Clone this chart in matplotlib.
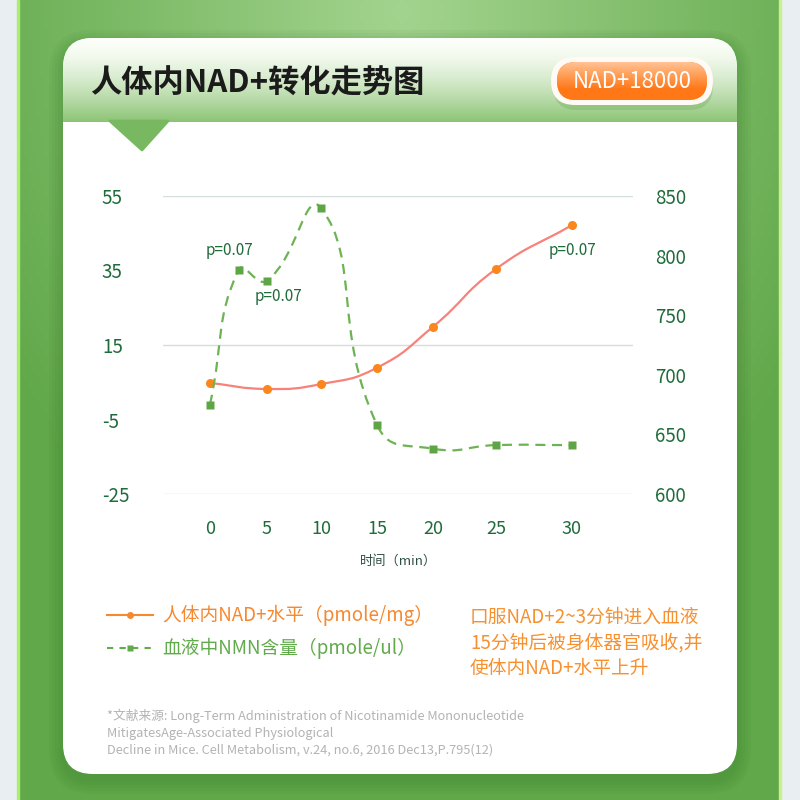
import numpy as np
import matplotlib
matplotlib.use('Agg')
import matplotlib.pyplot as plt
from matplotlib.patches import FancyBboxPatch, Polygon, Rectangle, PathPatch
from matplotlib.path import Path
from matplotlib.lines import Line2D

plt.rcParams['font.family'] = ['Noto Sans CJK SC', 'DejaVu Sans']

# ---- data ----
nad_time = [0, 5, 10, 15, 20, 25, 30]
nad_level = [4.8, 3.2, 4.5, 8.9, 19.9, 35.4, 47.2]          # pmole/mg, left axis
nmn_time = [0, 2.5, 5, 10, 15, 20, 25, 30]
nmn_level = [675, 788, 779, 840, 658, 638, 641, 641]         # pmole/ul, right axis
x_ticks = [0, 5, 10, 15, 20, 25, 30]
left_ticks = [55, 35, 15, -5, -25]
right_ticks = [850, 800, 750, 700, 650, 600]
grid_vals = [55, 15, -25]

title = '人体内NAD+转化走势图'
badge = 'NAD+18000'
legend_nad = '人体内NAD+水平（pmole/mg）'
legend_nmn = '血液中NMN含量（pmole/ul）'
note_lines = ['口服NAD+2~3分钟进入血液', '15分钟后被身体器官吸收,并', '使体内NAD+水平上升']
ref_lines = ['*文献来源: Long-Term Administration of Nicotinamide Mononucleotide',
             'MitigatesAge-Associated Physiological',
             'Decline in Mice. Cell Metabolism, v.24, no.6, 2016 Dec13,P.795(12)']

DKGREEN = '#1f6b3a'
ORANGE = '#f7902f'
GREEN = '#62ab4c'

fig = plt.figure(figsize=(8, 8), dpi=100)

# ---- background canvas in pixel coords ----
bg = fig.add_axes([0, 0, 1, 1])
bg.set_xlim(0, 800)
bg.set_ylim(800, 0)
bg.axis('off')

yy, xx = np.mgrid[0:800:4, 0:800:4]
r = np.clip(np.sqrt(((xx - 400) / 480.0) ** 2 + ((yy - 10) / 620.0) ** 2), 0, 1)
light = np.array([0.64, 0.83, 0.56])
dark = np.array([0.38, 0.66, 0.29])
img = light[None, None, :] * (1 - r[..., None]) + dark[None, None, :] * r[..., None]
bg.imshow(img, extent=(0, 800, 800, 0), zorder=0, aspect='auto')

bg.add_patch(Rectangle((0, 0), 17, 800, color='#e9eef2', zorder=1))
bg.add_patch(Rectangle((17, 0), 2, 800, color='#a9ee6e', zorder=1))
bg.add_patch(Rectangle((781, 0), 19, 800, color='#e9eef2', zorder=1))
bg.add_patch(Rectangle((779, 0), 2, 800, color='#c8f08e', zorder=1))

# soft shadow round the card
for i in range(5):
    g = 14 - i * 3
    bg.add_patch(FancyBboxPatch((63 - g, 38 - g + 6), 674 + 2 * g, 736 + 2 * g,
                                boxstyle='round,pad=0,rounding_size=%d' % (30 + g),
                                fc='#2f6a1f', ec='none', alpha=0.05, zorder=2))

card = FancyBboxPatch((63, 38), 674, 736, boxstyle='round,pad=0,rounding_size=30',
                      fc='white', ec='none', zorder=3)
bg.add_patch(card)

# header band gradient
hy = np.linspace(0, 1, 100)[:, None]
top = np.array([0.99, 1.0, 0.98])
bot = np.array([0.55, 0.77, 0.46])
f = hy ** 1.5
hdr = top[None, None, :] * (1 - f[..., None]) + bot[None, None, :] * f[..., None]
hdr = np.repeat(hdr, 2, axis=1)
him = bg.imshow(hdr, extent=(63, 737, 122, 38), zorder=4, aspect='auto')
him.set_clip_path(card)

bg.add_patch(Polygon([(110, 121), (168, 121), (142, 150)], closed=True,
                     fc='#78b861', ec='#78b861', lw=2, zorder=4, joinstyle='round'))

bg.text(90, 84, title, fontsize=22.5, fontweight='bold', color='#1b1b1b',
        va='center', ha='left', zorder=6)

# badge
bg.add_patch(FancyBboxPatch((553, 62), 160, 48, boxstyle='round,pad=0,rounding_size=24',
                            fc='#5f9c47', ec='none', alpha=0.25, zorder=5))
bg.add_patch(FancyBboxPatch((551, 57), 162, 48, boxstyle='round,pad=0,rounding_size=24',
                            fc='#fffaf4', ec='none', zorder=5))
pill = FancyBboxPatch((557, 62), 150, 38, boxstyle='round,pad=0,rounding_size=19',
                      fc='#ff8a30', ec='none', zorder=6)
bg.add_patch(pill)
py = np.linspace(0, 1, 50)[:, None]
ptop = np.array([1.0, 0.76, 0.58])
pbot = np.array([1.0, 0.47, 0.09])
pf = np.clip(py * 1.4, 0, 1)
pg = ptop[None, None, :] * (1 - pf[..., None]) + pbot[None, None, :] * pf[..., None]
pg = np.repeat(pg, 2, axis=1)
pim = bg.imshow(pg, extent=(557, 707, 100, 62), zorder=7, aspect='auto')
pim.set_clip_path(pill)
bg.text(632, 81, badge, fontsize=16, color='white', ha='center', va='center', zorder=8)

# ---- chart ----
AX_W, AX_H = 470, 298
warp_t = [-10, 0, 5, 10, 15, 20, 25, 30, 40]
warp_u = [-67, 47, 104, 158, 214, 270, 333, 409, 561]


def fwd(t):
    return np.interp(t, warp_t, warp_u)


def inv(u):
    return np.interp(u, warp_u, warp_t)


def smooth_path(t, v, ylo, yhi, smooth=0.5):
    # bezier smoothing done in screen space, like a "smooth" line chart
    sy = AX_H / float(yhi - ylo)
    pts = np.column_stack([fwd(np.asarray(t, float)), (np.asarray(v, float) - ylo) * sy])
    n = len(pts)
    cin, cout = [], []
    for i in range(n):
        prv = pts[max(i - 1, 0)]
        nxt = pts[min(i + 1, n - 1)]
        vec = nxt - prv
        d0 = np.hypot(*(pts[i] - prv))
        d1 = np.hypot(*(nxt - pts[i]))
        s = d0 + d1
        r0, r1 = (d0 / s, d1 / s) if s else (0, 0)
        cin.append(pts[i] - vec * smooth * r0)
        cout.append(pts[i] + vec * smooth * r1)
    verts = [pts[0]]
    codes = [Path.MOVETO]
    for i in range(n - 1):
        verts += [cout[i], cin[i + 1], pts[i + 1]]
        codes += [Path.CURVE4] * 3
    verts = np.array(verts)
    verts[:, 0] = inv(verts[:, 0])
    verts[:, 1] = verts[:, 1] / sy + ylo
    return Path(verts, codes)


ax = fig.add_axes([163 / 800, (800 - 494) / 800, AX_W / 800, AX_H / 800])
ax.set_xscale('function', functions=(fwd, inv))
ax.patch.set_visible(False)
ax2 = ax.twinx()
ax.set_xlim(inv(0), inv(AX_W))
ax.set_ylim(-25, 55)
ax2.set_ylim(600, 850)

for a in (ax, ax2):
    for s in a.spines.values():
        s.set_visible(False)

for g in grid_vals:
    ax.axhline(g, color='#d2dfde', lw=1.0, zorder=0)

ax.set_xticks(x_ticks)
ax.set_xticklabels([str(v) for v in x_ticks])
ax.set_yticks(left_ticks)
ax.set_yticklabels([str(v) for v in left_ticks])
ax2.set_yticks(right_ticks)
ax2.set_yticklabels([str(v) for v in right_ticks])
ax.tick_params(axis='x', length=0, pad=19, labelsize=13, labelcolor=DKGREEN)
ax.tick_params(axis='y', length=0, pad=44, labelsize=13.5, labelcolor=DKGREEN)
ax2.tick_params(axis='y', length=0, pad=16, labelsize=13.5, labelcolor=DKGREEN)
for lab in ax.get_yticklabels():
    lab.set_horizontalalignment('left')

ax.add_patch(PathPatch(smooth_path(nad_time, nad_level, -25, 55), fill=False,
                       ec='#f7827a', lw=1.6, zorder=3))
ax.plot(nad_time, nad_level, 'o', ms=6.5, color='#fb861c', mec='none', zorder=4,
        clip_on=False)

ax2.add_patch(PathPatch(smooth_path(nmn_time, nmn_level, 600, 850), fill=False,
                        ec='#6db353', lw=1.6, ls=(0, (4.5, 3)), zorder=3))
ax2.plot(nmn_time, nmn_level, 's', ms=5.5, color='#5ea645', mec='none', zorder=4,
         clip_on=False)

ann = dict(textcoords='offset pixels', fontsize=11, color=DKGREEN, ha='center', va='center')
ax2.annotate('p=0.07', (nmn_time[1], nmn_level[1]), xytext=(-9, 19), **ann)
ax2.annotate('p=0.07', (nmn_time[2], nmn_level[2]), xytext=(11, -16), **ann)
ax.annotate('p=0.07', (nad_time[-1], nad_level[-1]), xytext=(0, -25), **ann)

bg.text(399, 561, '时间（min）', fontsize=9.5, color='#2f4f45', ha='center', va='center', zorder=6)

# ---- legend ----
bg.add_line(Line2D([107, 153], [615, 615], color='#f7882e', lw=1.5, zorder=6))
bg.add_line(Line2D([130], [615], marker='o', ms=5, color='#f7882e', mec='none', zorder=7))
bg.text(162, 615, legend_nad, fontsize=13.5, color='#f7882e', ha='left', va='center', zorder=6)
bg.add_line(Line2D([107, 153], [648, 648], color=GREEN, lw=1.5, ls=(0, (3, 3)), zorder=6))
bg.add_line(Line2D([130], [648], marker='s', ms=5, color=GREEN, mec='none', zorder=7))
bg.text(162, 648, legend_nmn, fontsize=13.5, color=GREEN, ha='left', va='center', zorder=6)

for i, line in enumerate(note_lines):
    bg.text(470, 617 + i * 25.5, line, fontsize=13.5, color=ORANGE, ha='left',
            va='center', zorder=6)

for i, line in enumerate(ref_lines):
    bg.text(107, 716 + i * 17, line, fontsize=9.2, color='#b3b3b3', ha='left',
            va='center', zorder=6)

fig.savefig('out.png', dpi=100)
